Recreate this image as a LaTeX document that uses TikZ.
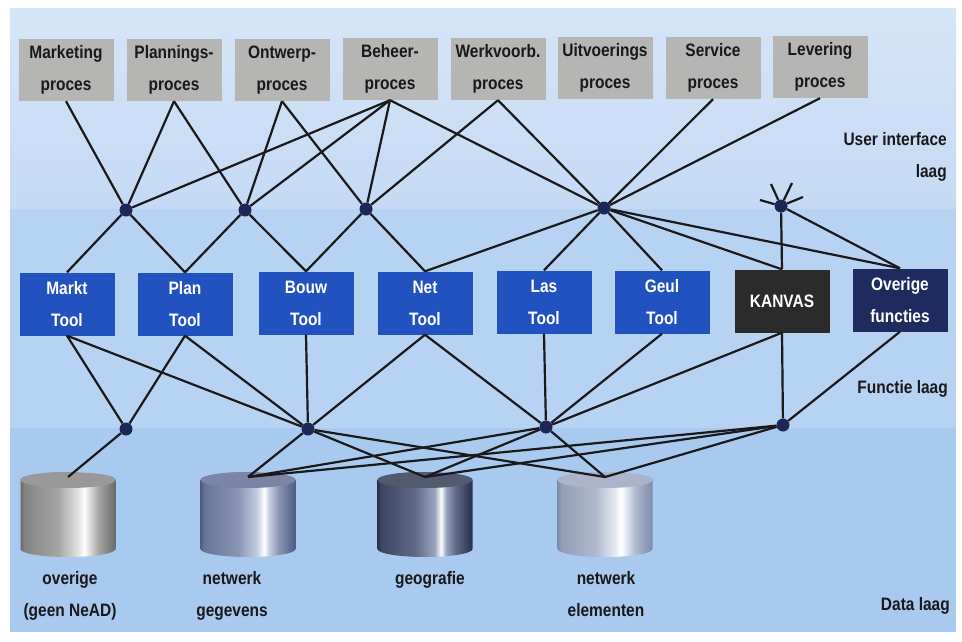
\documentclass[tikz,border=0pt]{standalone}
\usepackage{fontspec}
\setmainfont{Liberation Sans}[FakeStretch=0.86]
\usepackage{tikz}
\usetikzlibrary{positioning}

\definecolor{procgrey}{HTML}{B5B5B3}
\definecolor{toolblue}{HTML}{2152C0}
\definecolor{kanvasgrey}{HTML}{2B2B2B}
\definecolor{overnavy}{HTML}{1E2B5E}
\definecolor{hubnavy}{HTML}{1C2757}
\definecolor{linkgrey}{HTML}{1A1A1A}
\definecolor{bandtop}{HTML}{D5E5F8}
\definecolor{bandtopb}{HTML}{C4DAF4}
\definecolor{bandmid}{HTML}{B7D3F2}
\definecolor{bandlow}{HTML}{A9CAEF}
\definecolor{gegdark}{HTML}{4E5E84}
\definecolor{geglight}{HTML}{C6D0E2}
\definecolor{geodark}{HTML}{27304C}
\definecolor{geolight}{HTML}{98A4BE}
\definecolor{elemdark}{HTML}{7E8CAA}
\definecolor{elemlight}{HTML}{E2E8F2}

\newcommand{\tekst}{\fontsize{18}{32}\selectfont\bfseries}

% metal look for the databases
\colorlet{drumdark}{gray}
\colorlet{drumlight}{white}
\pgfdeclarehorizontalshading[drumdark,drumlight]{drum}{100bp}{%
  color(0bp)=(drumdark); color(25bp)=(drumdark);
  color(27bp)=(drumdark!80!drumlight); color(45bp)=(drumdark!50!drumlight);
  color(55bp)=(drumlight); color(58.5bp)=(white); color(61bp)=(drumlight);
  color(66bp)=(drumdark!50!drumlight); color(73bp)=(drumdark!90!drumlight);
  color(75bp)=(drumdark); color(100bp)=(drumdark)}

\newcommand{\drum}[5]{% name, x, dark, light, lid
  \colorlet{drumdark}{#3}\colorlet{drumlight}{#4}
  \shade[shading=drum] (#2-47.5,-480) -- (#2-47.5,-549)
      arc[start angle=180, end angle=360, x radius=47.5, y radius=8]
      -- (#2+47.5,-480)
      arc[start angle=0, end angle=180, x radius=47.5, y radius=8] -- cycle;
  \fill[#5] (#2,-480) ellipse[x radius=47.5, y radius=8];
  \coordinate (#1) at (#2,-477);
}

\begin{document}
\begin{tikzpicture}[
        x = 1pt, y = 1pt,
        proces/.style = {rectangle, fill = procgrey, text = black!90,
                         minimum width = 95pt, minimum height = 62pt,
                         inner sep = 0pt, align = center, font = \tekst},
        tool/.style = {rectangle, fill = toolblue, text = white,
                       minimum width = 95pt, minimum height = 63pt,
                       inner sep = 0pt, align = center, font = \tekst},
        hub/.style = {circle, fill = hubnavy, inner sep = 0pt, minimum size = 13pt},
        link/.style = {draw = linkgrey, line width = 2.2pt},
        laag/.style = {text = black!90, align = center, font = \tekst, inner sep = 0pt},
        ]
        % background bands
        \fill[white] (0,0) rectangle (962,-641);
        \shade[top color = bandtop, bottom color = bandtopb] (10,-8) rectangle (956,-209);
        \fill[bandmid] (10,-209) rectangle (956,-428);
        \fill[bandlow] (10,-428) rectangle (956,-632);

        % processes
        \node[proces] (mark)   at (66,-70)  {Marketing\\proces};
        \node[proces] (plann)  at (174,-70) {Plannings-\\proces};
        \node[proces] (ontw)   at (282,-70) {Ontwerp-\\proces};
        \node[proces] (beheer) at (390,-69) {Beheer-\\proces};
        \node[proces] (werkv)  at (498,-69) {Werkvoorb.\\proces};
        \node[proces] (uitv)   at (605,-68) {Uitvoerings\\proces};
        \node[proces] (serv)   at (713,-68) {Service\\proces};
        \node[proces] (lever)  at (820,-67) {Levering\\proces};

        % tools
        \node[tool] (markt)  at (67,-304)  {Markt\\Tool};
        \node[tool] (plan)   at (185,-304) {Plan\\Tool};
        \node[tool] (bouw)   at (306,-303) {Bouw\\Tool};
        \node[tool] (net)    at (425,-303) {Net\\Tool};
        \node[tool] (las)    at (544,-302) {Las\\Tool};
        \node[tool] (geul)   at (662,-302) {Geul\\Tool};
        \node[tool, fill = kanvasgrey] (kanvas) at (782,-301) {KANVAS};
        \node[tool, fill = overnavy]   (overig) at (900,-300) {Overige\\functies};

        % databases
        \drum{cyla}{68}{black!58}{black!12}{black!40}
        \drum{cylb}{248}{gegdark}{geglight}{gegdark!75!white}
        \drum{cylc}{425}{geodark}{geolight}{geodark!80!white}
        \drum{cyld}{605}{elemdark}{elemlight}{elemdark!65!white}

        % hubs
        \node[hub] (h1) at (126,-210) {};
        \node[hub] (h2) at (245,-210) {};
        \node[hub] (h3) at (366,-209) {};
        \node[hub] (h4) at (604,-208) {};
        \node[hub] (h5) at (781,-206) {};
        \node[hub] (ha) at (126,-429) {};
        \node[hub] (hb) at (308,-429) {};
        \node[hub] (hc) at (546,-427) {};
        \node[hub] (hd) at (783,-425) {};

        \coordinate (s1) at (760,-200);
        \coordinate (s2) at (771,-184);
        \coordinate (s3) at (792,-183);
        \coordinate (s4) at (803,-197);

        % user interface laag
        \draw[link] (mark.south) -- (h1);
        \draw[link] (plann.south) -- (h1);
        \draw[link] (plann.south) -- (h2);
        \draw[link] (ontw.south) -- (h2);
        \draw[link] (ontw.south) -- (h3);
        \draw[link] (beheer.south) -- (h1);
        \draw[link] (beheer.south) -- (h2);
        \draw[link] (beheer.south) -- (h3);
        \draw[link] (beheer.south) -- (h4);
        \draw[link] (werkv.south) -- (h3);
        \draw[link] (werkv.south) -- (h4);
        \draw[link] (serv.south) -- (h4);
        \draw[link] (lever.south) -- (h4);
        \draw[link] (h5) -- (s1);
        \draw[link] (h5) -- (s2);
        \draw[link] (h5) -- (s3);
        \draw[link] (h5) -- (s4);

        \draw[link] (h1) -- (markt.north);
        \draw[link] (h1) -- (plan.north);
        \draw[link] (h2) -- (plan.north);
        \draw[link] (h2) -- (bouw.north);
        \draw[link] (h3) -- (bouw.north);
        \draw[link] (h3) -- (net.north);
        \draw[link] (h4) -- (net.north);
        \draw[link] (h4) -- (las.north);
        \draw[link] (h4) -- (geul.north);
        \draw[link] (h4) -- (kanvas.north);
        \draw[link] (h4) -- (overig.north);
        \draw[link] (h5) -- (kanvas.north);
        \draw[link] (h5) -- (overig.north);

        % functie laag
        \draw[link] (markt.south) -- (ha);
        \draw[link] (markt.south) -- (hb);
        \draw[link] (plan.south) -- (ha);
        \draw[link] (plan.south) -- (hb);
        \draw[link] (bouw.south) -- (hb);
        \draw[link] (net.south) -- (hb);
        \draw[link] (net.south) -- (hc);
        \draw[link] (las.south) -- (hc);
        \draw[link] (geul.south) -- (hc);
        \draw[link] (kanvas.south) -- (hc);
        \draw[link] (kanvas.south) -- (hd);
        \draw[link] (overig.south) -- (hd);

        % data laag
        \draw[link] (ha) -- (cyla);
        \draw[link] (hb) -- (cylb);
        \draw[link] (hb) -- (cylc);
        \draw[link] (hb) -- (cyld);
        \draw[link] (hc) -- (cylb);
        \draw[link] (hc) -- (cylc);
        \draw[link] (hc) -- (cyld);
        \draw[link] (hd) -- (cylb);
        \draw[link] (hd) -- (cylc);
        \draw[link] (hd) -- (cyld);

        % labels (base is the last line)
        \node[laag, anchor = base] (overtxt) at (70,-616)  {overige\\(geen NeAD)};
        \node[laag, anchor = base] (gegtxt)  at (232,-616) {netwerk\\gegevens};
        \node[laag, anchor = base] (geotxt)  at (430,-584) {geografie};
        \node[laag, anchor = base] (elemtxt) at (606,-616) {netwerk\\elementen};

        \node[laag, align = right, anchor = base east] (uitxt) at (947,-177) {User interface\\laag};
        \node[laag, anchor = base east] (functxt) at (948,-393) {Functie laag};
        \node[laag, anchor = base east] (datatxt) at (950,-610) {Data laag};
\end{tikzpicture}
\end{document}
